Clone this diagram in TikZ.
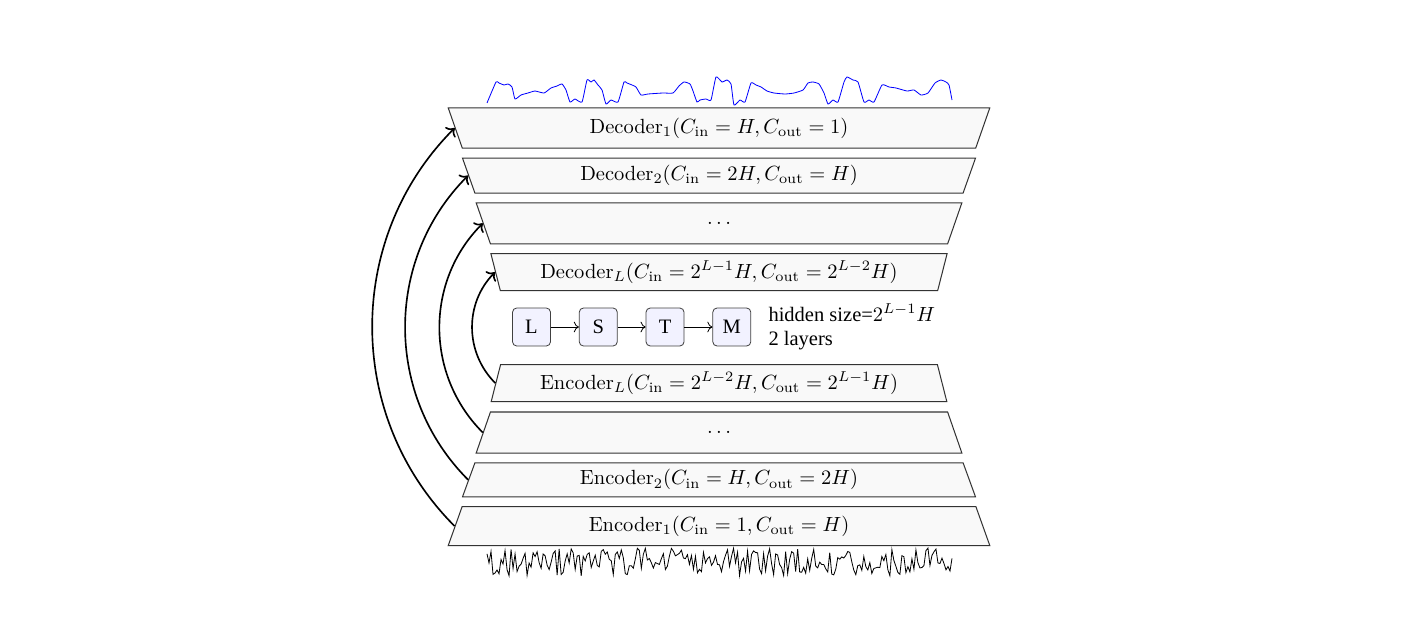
\documentclass[tikz,border=0pt]{standalone}
\usepackage{fontspec}
\newfontfamily\timesfont{Liberation Serif}
\usepackage{tikz}
\usetikzlibrary{shapes.geometric, arrows.meta, positioning}

\begin{document}
\begin{tikzpicture}[
    x=0.01714cm, y=-0.01714cm,
    node distance=0.15cm,
    layer/.style={trapezium, trapezium angle=71, trapezium stretches=true, inner sep=0pt, line width=0.5pt, draw=black!80, fill=black!2.5},
    declayer/.style={layer, shape border rotate=180},
    cell/.style={rectangle, rounded corners=2pt, minimum size=0.65cm, inner sep=0pt, draw=black!75, fill=blue!5, font=\timesfont},
    skip/.style={thick,->},
    arrow/.style={->}
]
\useasboundingbox (0,0) rectangle (1404,625);

\node (dec1) [declayer, minimum width=9.29cm, minimum height=0.686cm] at (719,128) {Decoder$_1(C_{\mathrm{in}}=H, C_{\mathrm{out}}=1)$};
\node (dec2) [declayer, minimum width=8.81cm, minimum height=0.6cm, below=0.154cm of dec1] {Decoder$_2(C_{\mathrm{in}}=2H, C_{\mathrm{out}}=H)$};
\node (decdots) [declayer, minimum width=8.33cm, minimum height=0.703cm, below=of dec2] {$\dots$};
\node (decL) [declayer, minimum width=7.83cm, minimum height=0.634cm, below=of decdots] {Decoder$_L(C_{\mathrm{in}}=2^{L-1}H, C_{\mathrm{out}}=2^{L-2}H)$};

\node (l) [cell] at (531.5,327) {L};
\node (s) [cell, right=0.48cm of l] {S};
\node (t) [cell, right=0.48cm of s] {T};
\node (m) [cell, right=0.48cm of t] {M};
\node (hid) [right=0.29cm of m, inner sep=0pt, align=left, font=\timesfont] {hidden size=$2^{L-1}H$\\2 layers};

\node (encL) [layer, minimum width=7.83cm, minimum height=0.634cm, below=1.25cm of decL] {Encoder$_L(C_{\mathrm{in}}=2^{L-2}H, C_{\mathrm{out}}=2^{L-1}H)$};
\node (encdots) [layer, minimum width=8.33cm, minimum height=0.703cm, below=0.16cm of encL] {$\dots$};
\node (enc2) [layer, minimum width=8.81cm, minimum height=0.583cm, below=of encdots] {Encoder$_2(C_{\mathrm{in}}=H, C_{\mathrm{out}}=2H)$};
\node (enc1) [layer, minimum width=9.29cm, minimum height=0.668cm, below=of enc2] {Encoder$_1(C_{\mathrm{in}}=1, C_{\mathrm{out}}=H)$};

\draw [arrow] (l) -- (s);
\draw [arrow] (s) -- (t);
\draw [arrow] (t) -- (m);

\draw [skip] (enc1.west) to[bend left=45] (dec1.west);
\draw [skip] (enc2.west) to[bend left=45] (dec2.west);
\draw [skip] (encdots.west) to[bend left=45] (decdots.west);
\draw [skip] (encL.west) to[bend left=45] (decL.west);

% output signal
\draw [blue] plot[smooth, tension=0.3] coordinates {(487,103) (496,82) (499,83) (504,85) (508,84) (512,87) (515,99) (521,95) (528,93) (535,91) (544,93) (551,88) (557,86) (562,84) (566,90) (570,102) (575,99) (582,102) (587,80) (591,82) (594,80) (598,85) (602,90) (606,104) (611,100) (618,102) (624,82) (627,83) (632,85) (636,87) (641,95) (648,94) (663,93) (673,93) (679,86) (684,82) (690,84) (693,91) (697,102) (700,100) (706,99) (711,100) (716,77) (722,82) (727,80) (731,84) (734,105) (740,100) (745,102) (751,83) (756,85) (761,87) (767,91) (774,93) (785,94) (794,93) (803,90) (808,83) (813,82) (819,84) (824,93) (828,104) (833,100) (838,102) (844,82) (847,77) (853,80) (858,82) (864,102) (869,100) (874,102) (882,85) (889,87) (896,88) (907,91) (914,90) (921,95) (928,93) (935,83) (941,80) (946,82) (949,85) (952,100)};

% input noise
\pgfmathsetseed{42}
\draw plot[domain=487:952, samples=233] (\x, {562+14*rand});

\end{tikzpicture}
\end{document}
